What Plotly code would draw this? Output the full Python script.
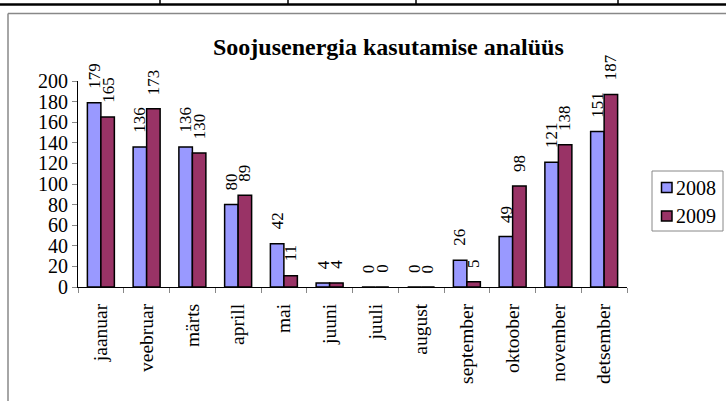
import plotly.graph_objects as go

months = ["jaanuar", "veebruar", "märts", "aprill", "mai", "juuni", "juuli",
          "august", "september", "oktoober", "november", "detsember"]
v2008 = [179, 136, 136, 80, 42, 4, 0, 0, 26, 49, 121, 151]
v2009 = [165, 173, 130, 89, 11, 4, 0, 0, 5, 98, 138, 187]
yticks = [0, 20, 40, 60, 80, 100, 120, 140, 160, 180, 200]
series = [("2008", v2008, "#9999FF"), ("2009", v2009, "#993366")]

W, H = 726, 401
L, R, T, B = 78, 627, 81, 287
def px(x): return (x - L) / (R - L)
def py(y): return (B - y) / (B - T)

BARGAP = 0.41
cat_w = (R - L) / len(months)
bar_w = cat_w * (1 - BARGAP) / len(series)

font = "Liberation Serif, Times New Roman, serif"
fig = go.Figure()
annotations = []
for k, (name, vals, col) in enumerate(series):
    fig.add_trace(go.Bar(
        x=months, y=vals, name=name, marker=dict(color=col, line=dict(color="black", width=1.5)),
        showlegend=False,
    ))
    off = (k - (len(series) - 1) / 2) * bar_w
    for m, v in zip(months, vals):
        annotations.append(dict(x=m, y=v, xref="x", yref="y", text=str(v), showarrow=False,
                                textangle=-90, xanchor="center", yanchor="bottom",
                                xshift=off, yshift=13, borderpad=0,
                                font=dict(family=font, size=17, color="black")))

annotations.append(dict(text="<b>Soojusenergia kasutamise analüüs</b>", x=px(388), y=py(47),
                        xref="paper", yref="paper", showarrow=False, xanchor="center", yanchor="middle",
                        font=dict(family=font, size=24, color="black")))

shapes = [
    dict(type="line", xref="paper", yref="paper", x0=px(0), x1=px(726), y0=py(4.5), y1=py(4.5),
         line=dict(color="black", width=2.5)),
    dict(type="line", xref="paper", yref="paper", x0=px(8), x1=px(726), y0=py(13.5), y1=py(13.5),
         line=dict(color="#888888", width=1.5)),
    dict(type="line", xref="paper", yref="paper", x0=px(8), x1=px(8), y0=py(13.5), y1=py(401),
         line=dict(color="#888888", width=1.5)),
]
for xv in [160, 288, 416, 618]:
    shapes.append(dict(type="line", xref="paper", yref="paper", x0=px(xv), x1=px(xv), y0=py(0), y1=py(5),
                       line=dict(color="black", width=1.5)))

# legend box
shapes.append(dict(type="rect", xref="paper", yref="paper", x0=px(652), x1=px(723), y0=py(171), y1=py(231),
                   line=dict(color="#888888", width=1), fillcolor="white"))
for k, (name, vals, col) in enumerate(series):
    yc = 187.5 + k * 28.5
    shapes.append(dict(type="rect", xref="paper", yref="paper", x0=px(661.5), x1=px(672), y0=py(yc - 5),
                       y1=py(yc + 5), line=dict(color="black", width=1.5), fillcolor=col))
    annotations.append(dict(text=name, x=px(674), y=py(yc), xref="paper", yref="paper", showarrow=False,
                            xanchor="left", yanchor="middle", font=dict(family=font, size=20, color="black")))

fig.update_layout(
    width=W, height=H, autosize=False,
    margin=dict(l=L, r=W - R, t=T, b=H - B, pad=0),
    paper_bgcolor="white", plot_bgcolor="white",
    barmode="group", bargap=BARGAP, bargroupgap=0,
    font=dict(family=font, size=16, color="black"),
    showlegend=False,
    annotations=annotations,
    shapes=shapes,
)
fig.update_xaxes(showline=True, linecolor="black", linewidth=1, ticks="outside", tickson="boundaries",
                 ticklen=5, tickcolor="#888888", tickangle=-90, tickfont=dict(family=font, size=19.5),
                 ticklabelstandoff=8, showgrid=False)
fig.update_yaxes(range=[0, 200], tickvals=yticks, showline=True, linecolor="black", linewidth=1,
                 ticks="outside", ticklen=5, tickcolor="#888888", showgrid=False, zeroline=False,
                 tickfont=dict(family=font, size=20))
fig.write_html("out.html", config={"displayModeBar": False},
               post_script="document.body.style.margin='0';document.body.style.overflow='hidden';")
